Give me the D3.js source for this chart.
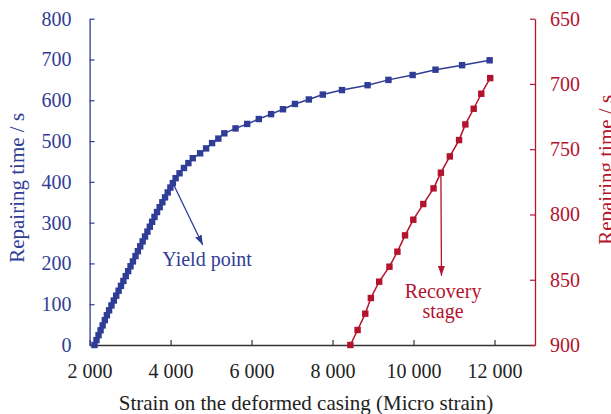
<!DOCTYPE html>
<html>
<head>
<meta charset="utf-8">
<script src="https://cdn.jsdelivr.net/npm/d3@7/dist/d3.min.js"></script>
<style>
  body { margin: 0; background: #fff; }
  svg text { font-family: "Liberation Serif", "Times New Roman", serif; }
</style>
</head>
<body>
<svg id="chart" width="611" height="414"></svg>
<script>
// tick labels
var strainTicks = [2000, 4000, 6000, 8000, 10000, 12000];
var leftTicks = [0, 100, 200, 300, 400, 500, 600, 700, 800];
var rightTicks = [650, 700, 750, 800, 850, 900];

// loading curve (left axis)
var loadStrain = [2120, 2170, 2221, 2271, 2322, 2376, 2427, 2481, 2540, 2598,
  2657, 2716, 2775, 2834, 2893, 2952, 3011, 3070, 3134, 3192,
  3251, 3310, 3369, 3428, 3487, 3544, 3603, 3665, 3731, 3797,
  3863, 3929, 3995, 4056, 4125, 4221, 4330, 4440, 4548, 4730,
  4877, 5025, 5179, 5327, 5604, 5892, 6179, 6482, 6776, 7071,
  7415, 7759, 8233, 8865, 9381, 9978, 10543, 11199, 11880];
var loadTime = [0, 12, 24, 36, 48, 61, 73, 85, 97, 109,
  121, 133, 145, 157, 169, 181, 193, 205, 218, 230,
  242, 254, 266, 278, 290, 302, 314, 326, 338, 350,
  362, 374, 386, 397, 409, 421, 434, 446, 458, 470,
  482, 495, 506, 519, 531, 542, 554, 566, 578, 591,
  602, 614, 625, 637, 650, 662, 675, 686, 698];

// recovery curve (right axis, reversed)
var recoveryStrain = [8440, 8619, 8808, 8946, 9152, 9405, 9602, 9791, 9995,
  10241, 10494, 10676, 10897, 11125, 11280, 11486, 11673, 11894];
var recoveryTime = [900, 888.5, 876, 864, 851.5, 840, 828.5, 816, 804,
  792, 780, 768, 755.5, 743, 731, 719, 707.5, 695.5];

var blue = "#2f3d96";
var red = "#b3132d";

var svg = d3.select("#chart");
var mLeft = 89.6, mRight = 535, mTop = 18.7, mBottom = 345;

var x = d3.scaleLinear().domain([2000, 13000]).range([mLeft, mRight]);
var yL = d3.scaleLinear().domain([0, 800]).range([mBottom, mTop]);
var yR = d3.scaleLinear().domain([900, 650]).range([mBottom, mTop]);

var fmt = d3.formatLocale({decimal: ".", thousands: " ", grouping: [3], currency: ["", ""]}).format(",");

function styleAxis(g, color, textColor) {
  g.select(".domain").attr("stroke", color).attr("stroke-width", 1.3);
  g.selectAll(".tick line").attr("stroke", color).attr("stroke-width", 1.2);
  g.selectAll(".tick text").attr("fill", textColor).style("font-size", "20px")
    .style("font-family", '"Liberation Serif", serif');
}

// bottom axis
var gx = svg.append("g").attr("transform", "translate(0," + mBottom + ")")
  .call(d3.axisBottom(x).tickValues(strainTicks).tickFormat(fmt)
    .tickSizeInner(-5).tickSizeOuter(0).tickPadding(19));
styleAxis(gx, "#333", "#222");

// left axis
var gl = svg.append("g").attr("transform", "translate(" + mLeft + ",0)")
  .call(d3.axisLeft(yL).tickValues(leftTicks)
    .tickSizeInner(-5).tickSizeOuter(0).tickPadding(18));
styleAxis(gl, blue, blue);

// right axis
var gr = svg.append("g").attr("transform", "translate(" + mRight + ",0)")
  .call(d3.axisRight(yR).tickValues(rightTicks)
    .tickSizeInner(-5).tickSizeOuter(0).tickPadding(15));
styleAxis(gr, red, red);

// axis titles
svg.append("text")
  .attr("transform", "translate(24," + ((mTop + mBottom) / 2 + 6) + ") rotate(-90)")
  .attr("text-anchor", "middle").attr("fill", blue).style("font-size", "21px")
  .text("Repairing time / s");
svg.append("text")
  .attr("transform", "translate(613," + ((mTop + mBottom) / 2 - 12) + ") rotate(-90)")
  .attr("text-anchor", "middle").attr("fill", red).style("font-size", "21px")
  .text("Repairing time / s");
svg.append("text")
  .attr("x", 306).attr("y", 410)
  .attr("text-anchor", "middle").attr("fill", "#222").style("font-size", "21px")
  .text("Strain on the deformed casing (Micro strain)");

// arrowheads
var defs = svg.append("defs");
function arrowHead(id, color) {
  defs.append("marker").attr("id", id)
    .attr("viewBox", "0 0 10 10").attr("refX", 10).attr("refY", 5)
    .attr("markerWidth", 10).attr("markerHeight", 10)
    .attr("markerUnits", "userSpaceOnUse").attr("orient", "auto")
    .append("path").attr("d", "M0,1.5 L10,5 L0,8.5 Z").attr("fill", color);
}
arrowHead("ahBlue", blue);
arrowHead("ahRed", red);

// annotations
svg.append("line")
  .attr("x1", x(4070)).attr("y1", yL(394))
  .attr("x2", x(4795)).attr("y2", yL(245))
  .attr("stroke", blue).attr("stroke-width", 1.3)
  .attr("marker-end", "url(#ahBlue)");
svg.append("text")
  .attr("x", x(4900)).attr("y", yL(193))
  .attr("text-anchor", "middle").attr("fill", blue).style("font-size", "20px")
  .text("Yield point");

svg.append("line")
  .attr("x1", x(10676)).attr("y1", yR(768))
  .attr("x2", x(10690)).attr("y2", yR(847))
  .attr("stroke", red).attr("stroke-width", 1.3)
  .attr("marker-end", "url(#ahRed)");
svg.append("text")
  .attr("x", x(10730)).attr("y", yR(864))
  .attr("text-anchor", "middle").attr("fill", red).style("font-size", "20px")
  .text("Recovery");
svg.append("text")
  .attr("x", x(10730)).attr("y", yR(879.5))
  .attr("text-anchor", "middle").attr("fill", red).style("font-size", "20px")
  .text("stage");

// series
function drawSeries(xs, ys, yScale, color) {
  var pts = xs.map(function (v, i) { return [v, ys[i]]; });
  var line = d3.line()
    .x(function (d) { return x(d[0]); })
    .y(function (d) { return yScale(d[1]); });
  svg.append("path").datum(pts)
    .attr("d", line).attr("fill", "none")
    .attr("stroke", color).attr("stroke-width", 1.5);
  var s = 6.4;
  svg.append("g").selectAll("rect").data(pts).enter().append("rect")
    .attr("x", function (d) { return x(d[0]) - s / 2; })
    .attr("y", function (d) { return yScale(d[1]) - s / 2; })
    .attr("width", s).attr("height", s)
    .attr("fill", color);
}

drawSeries(loadStrain, loadTime, yL, blue);
drawSeries(recoveryStrain, recoveryTime, yR, red);
</script>
</body>
</html>
